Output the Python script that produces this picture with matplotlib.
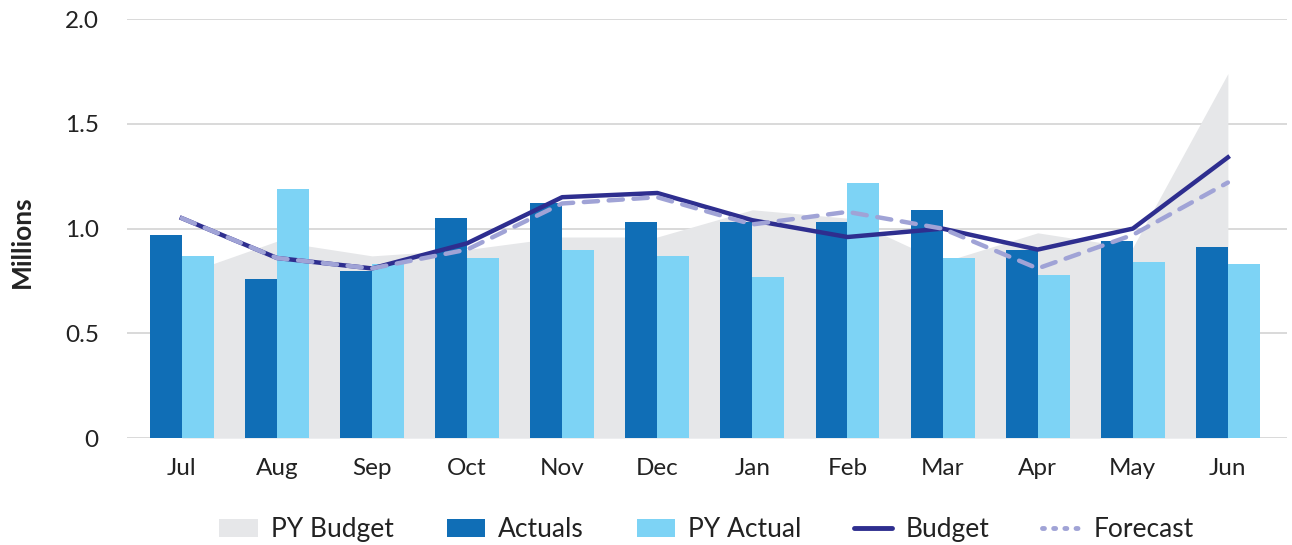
import matplotlib
matplotlib.use('Agg')
import matplotlib.pyplot as plt
from matplotlib.patches import Patch
from matplotlib.lines import Line2D
import numpy as np

plt.rcParams['font.family'] = ['Lato', 'DejaVu Sans']

months = ['Jul', 'Aug', 'Sep', 'Oct', 'Nov', 'Dec', 'Jan', 'Feb', 'Mar', 'Apr', 'May', 'Jun']
actuals = [0.97, 0.76, 0.80, 1.05, 1.12, 1.03, 1.03, 1.03, 1.09, 0.90, 0.94, 0.91]
py_actual = [0.87, 1.19, 0.83, 0.86, 0.90, 0.87, 0.77, 1.22, 0.86, 0.78, 0.84, 0.83]
budget = [1.05, 0.86, 0.81, 0.93, 1.15, 1.17, 1.04, 0.96, 1.00, 0.90, 1.00, 1.34]
forecast = [1.05, 0.86, 0.81, 0.90, 1.12, 1.15, 1.02, 1.08, 1.00, 0.81, 0.97, 1.22]
py_budget = [0.78, 0.94, 0.87, 0.90, 0.96, 0.96, 1.09, 1.05, 0.84, 0.98, 0.91, 1.74]

c_pybud = '#E6E7E9'
c_act = '#106EB6'
c_pyact = '#7DD3F5'
c_bud = '#2E2E8F'
c_fc = '#A0A3D6'

fig = plt.figure(figsize=(12.92, 5.45), dpi=100)
ax = fig.add_axes([0.098, 0.196, 0.898, 0.769])

x = np.arange(len(months))
w = 0.336

# PY budget as shaded area behind the bars
ax.fill_between(x, 0, py_budget, color=c_pybud, linewidth=0, zorder=1)
ax.bar(x - w/2, actuals, w, color=c_act, zorder=2)
ax.bar(x + w/2, py_actual, w, color=c_pyact, zorder=2)
ax.plot(x, budget, color=c_bud, linewidth=3.2, zorder=3)
ax.plot(x, forecast, color=c_fc, linewidth=3.2, linestyle=(0, (3.2, 2.4)),
        dash_capstyle='round', zorder=4)

ax.set_ylim(0, 2.0)
ax.set_xlim(-0.58, 11.62)
ax.set_yticks([0, 0.5, 1.0, 1.5, 2.0])
ax.set_yticklabels(['0', '0.5', '1.0', '1.5', '2.0'])
ax.set_xticks(x)
ax.set_xticklabels(months)
ax.tick_params(axis='both', length=0, labelsize=17.5, colors='#222222')
ax.tick_params(axis='y', pad=20)
ax.tick_params(axis='x', pad=14)
ax.grid(axis='y', color='#D9D9D9', linewidth=1.4, zorder=0)
ax.set_axisbelow(True)
for s in ax.spines.values():
    s.set_visible(False)

fig.text(0.017, 0.556, 'Millions', rotation=90, fontsize=19, fontweight='bold',
         ha='center', va='center', color='#222222')

handles = [
    Patch(facecolor=c_pybud, edgecolor='none'),
    Patch(facecolor=c_act, edgecolor='none'),
    Patch(facecolor=c_pyact, edgecolor='none'),
    Line2D([0], [0], color=c_bud, linewidth=3.5, solid_capstyle='round'),
    Line2D([0], [0], color=c_fc, linewidth=3.5, linestyle=(0, (0.4, 1.9)), dash_capstyle='round'),
]
labels = ['PY Budget', 'Actuals', 'PY Actual', 'Budget', 'Forecast']
fig.legend(handles, labels, loc='center', bbox_to_anchor=(0.547, 0.028), ncol=5,
           frameon=False, fontsize=19, handlelength=1.45, handleheight=0.7,
           columnspacing=2.0, handletextpad=0.5, labelcolor='#222222')

fig.savefig('out.png', dpi=100)
